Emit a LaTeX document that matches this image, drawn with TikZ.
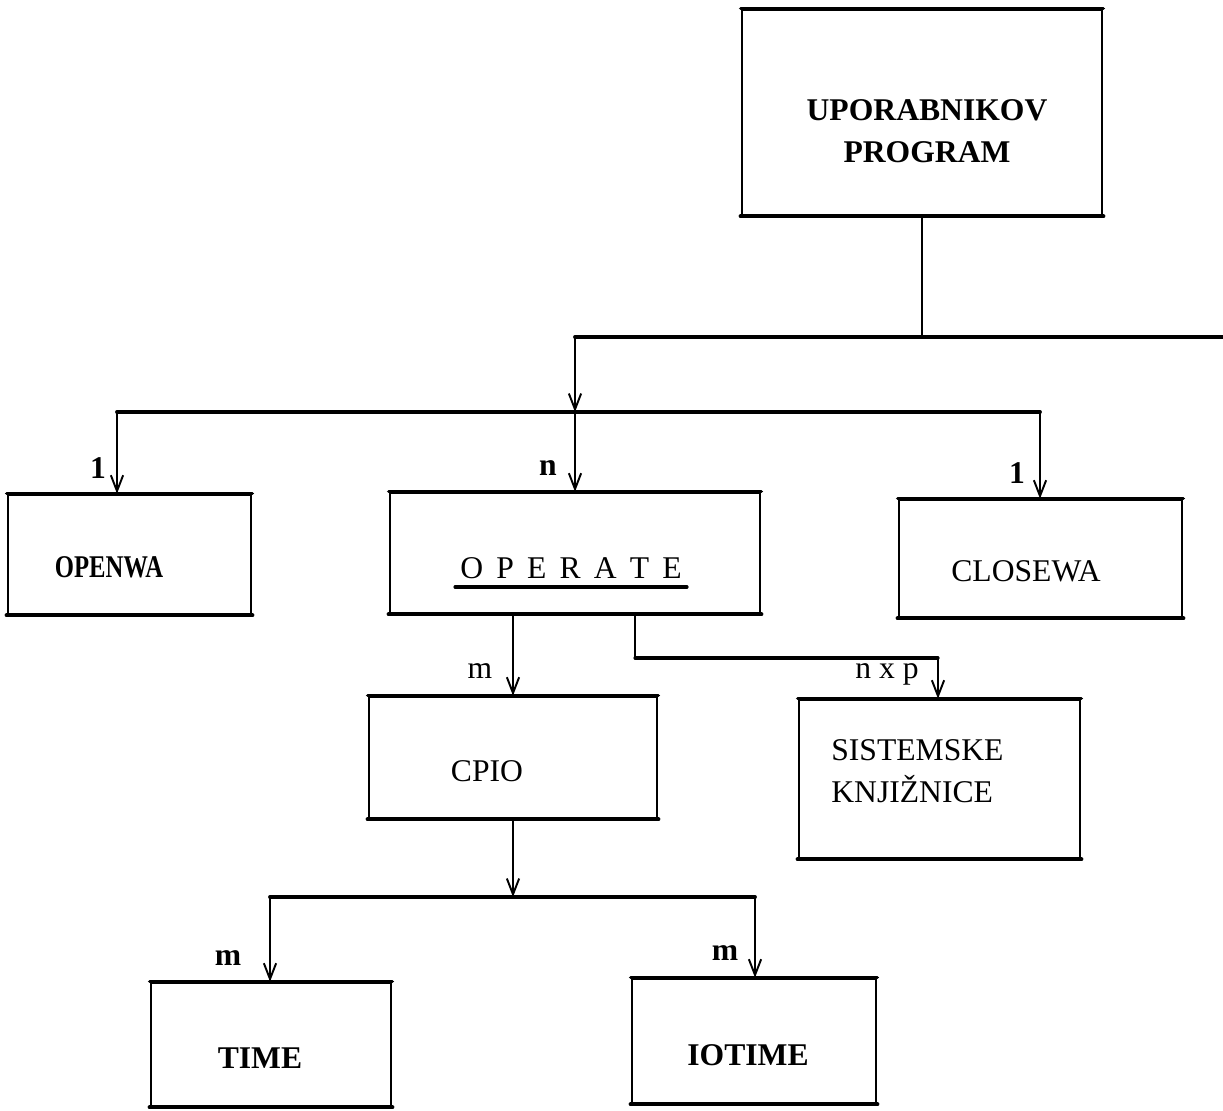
\documentclass[tikz,border=0pt]{standalone}
\usepackage{fontspec}
\setmainfont{Liberation Serif}
\usetikzlibrary{arrows.meta}
\begin{document}
\begin{tikzpicture}[x=0.02cm,y=-0.02cm,
  box/.style={draw, line width=1.5pt, inner sep=0pt},
  txt/.style={inner sep=0pt, font=\fontsize{18}{24}\selectfont},
  btxt/.style={inner sep=0pt, font=\fontsize{18}{24}\selectfont\bfseries},
  lbl/.style={inner sep=0pt, font=\fontsize{18}{20}\selectfont\bfseries},
  rlbl/.style={inner sep=0pt, font=\fontsize{18}{20}\selectfont},
  conn/.style={line width=1.1pt},
  arr/.style={line width=1.1pt, -{Straight Barb[length=9pt,width=7pt,line width=1.1pt]}},
  bus/.style={line width=2.2pt, line cap=round},
  edge/.style={line width=2.4pt, line cap=round}
]
\useasboundingbox (0,0) rectangle (1223,1111);

% boxes
\node[box, minimum width=7.2cm,  minimum height=4.1cm]  (top)     at (922,112.5) {};
\node[box, minimum width=4.86cm, minimum height=2.38cm] (openwa)  at (129.5,554.5) {};
\node[box, minimum width=7.4cm,  minimum height=2.4cm]  (operate) at (575,553) {};
\node[box, minimum width=5.66cm, minimum height=2.34cm] (closewa) at (1040.5,558.5) {};
\node[box, minimum width=5.76cm, minimum height=2.42cm] (cpio)    at (513,757.5) {};
\node[box, minimum width=5.62cm, minimum height=3.16cm] (sist)    at (939.5,779) {};
\node[box, minimum width=4.8cm,  minimum height=2.46cm] (time)    at (271,1044.5) {};
\node[box, minimum width=4.88cm, minimum height=2.48cm] (iotime)  at (754,1041) {};
\foreach \b in {top,openwa,operate,closewa,cpio,sist,time,iotime}{
  \draw[edge] (\b.south west) -- (\b.south east);
  \draw[edge, line width=2pt] (\b.north west) -- (\b.north east);
}

% texts
\node[btxt, align=center] (topT) at (927,131) {UPORABNIKOV\\PROGRAM};
\node[btxt] (openwaT) at (109,567) {\scalebox{0.78}[1]{OPENWA}};
\node[txt] (operateT) at (571,568) {O\hspace{7.5pt}P\hspace{7.5pt}E\hspace{7.5pt}R\hspace{7.5pt}A\hspace{7.5pt}T\hspace{7.5pt}E};
\draw[line width=1.8pt, line cap=round] (455,587) -- (687,587);
\node[txt] (closewaT) at (1026,571) {CLOSEWA};
\node[txt] (cpioT) at (487,771) {CPIO};
\node[txt, align=left, anchor=west] (sistT) at (831,771) {SISTEMSKE\\KNJIŽNICE};
\node[btxt] (timeT) at (260,1058) {TIME};
\node[btxt] (iotimeT) at (748,1055) {IOTIME};

% labels
\node[lbl] (l1) at (98,468) {1};
\node[lbl] (l2) at (548,468) {n};
\node[lbl] (l3) at (1017,473) {1};
\node[rlbl] (l4) at (480,671) {m};
\node[rlbl] (l5) at (887,674) {n x p};
\node[lbl] (l6) at (228,958) {m};
\node[lbl] (l7) at (725,953) {m};

% bus coordinates
\coordinate (b1L) at (575,337);
\coordinate (b1R) at (1223,337);
\coordinate (b2L) at (117,412);
\coordinate (b2M) at (575,412);
\coordinate (b2R) at (1040,412);
\coordinate (sbend) at (938,658);
\coordinate (b3L) at (270,897);
\coordinate (b3M) at (513,897);
\coordinate (b3R) at (755,897);

% level 1
\draw[conn] (top.south) -- (top.south |- b1L);
\draw[bus] (b1L) -- (b1R);
\draw[arr] (b1L) -- (b2M);
% level 2
\draw[bus] (b2L) -- (b2R);
\draw[arr] (b2L) -- (b2L |- openwa.north);
\draw[arr] (b2M) -- (operate.north);
\draw[arr] (b2R) -- (b2R |- closewa.north);
% operate children
\draw[arr] (cpio.north |- operate.south) -- (cpio.north);
\draw[conn] ([xshift=1.2cm]operate.south) |- (sbend);
\draw[bus, line width=1.8pt] ([xshift=1.2cm]operate.south |- sbend) -- (sbend);
\draw[arr] (sbend) -- (sbend |- sist.north);
% cpio children
\draw[arr] (cpio.south) -- (b3M);
\draw[bus] (b3L) -- (b3R);
\draw[arr] (b3L) -- (b3L |- time.north);
\draw[arr] (b3R) -- (b3R |- iotime.north);
\end{tikzpicture}
\end{document}
